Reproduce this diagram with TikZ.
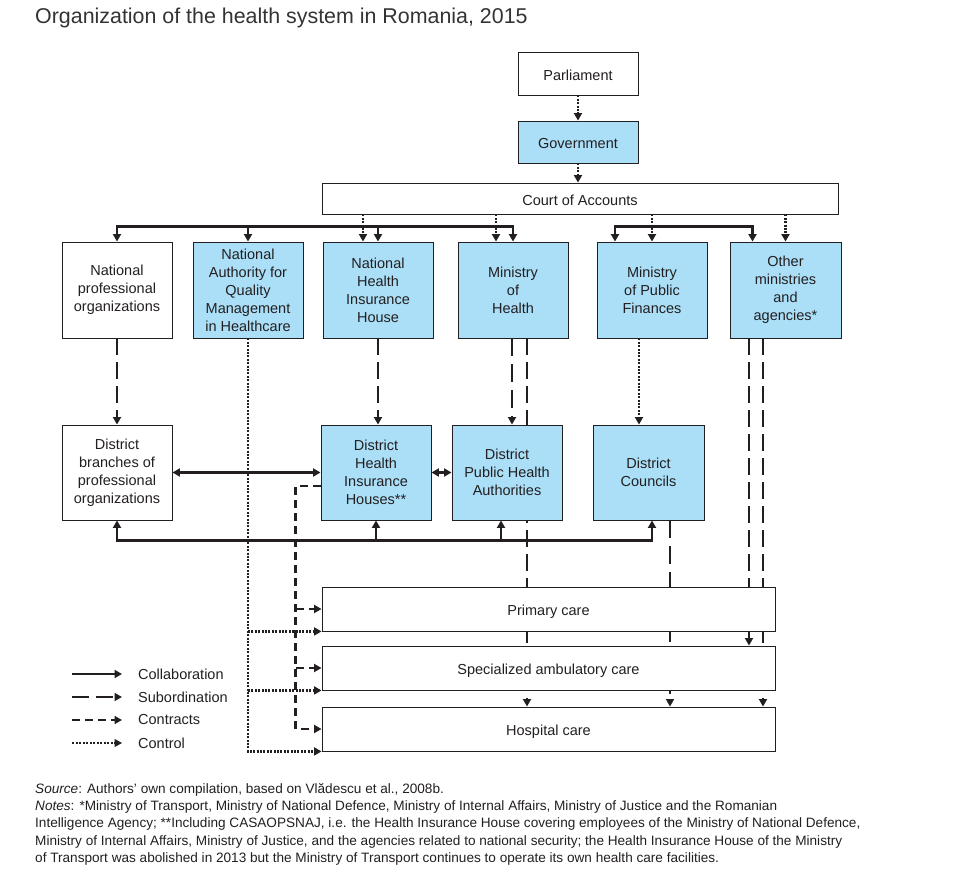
\documentclass[tikz,border=0pt]{standalone}
\usepackage{fontspec}
\setmainfont{Liberation Sans}
\usepackage{tikz}
\usetikzlibrary{arrows.meta,positioning,calc,backgrounds}
\definecolor{skyfill}{RGB}{170,223,247}
\definecolor{inkgray}{RGB}{35,31,32}
\newcommand{\boxfont}{\fontsize{14.5}{18}\selectfont}
\tikzstyle{orgbox}=[rectangle,draw=inkgray,line width=0.9pt,fill=white,minimum width=110pt,
                  minimum height=96pt,inner sep=1pt,align=center,font=\boxfont,text=inkgray]
\tikzstyle{bluebox}=[orgbox,fill=skyfill]
\tikzstyle{oneline}=[text height=13.5pt,text depth=0pt]
\tikzstyle{carebox}=[orgbox,oneline,minimum width=453pt,minimum height=44pt]
\tikzstyle{collab}=[->,line width=2.4pt,draw=inkgray]
\tikzstyle{subord}=[->,line width=2.6pt,draw=inkgray,dash pattern=on 17pt off 7pt]
\tikzstyle{subthin}=[->,line width=1.5pt,draw=inkgray,dash pattern=on 18pt off 8pt]
\tikzstyle{contract}=[->,line width=2.2pt,draw=inkgray,dash pattern=on 8pt off 5pt]
\tikzstyle{ctrl}=[->,line width=2.2pt,draw=inkgray,dash pattern=on 2pt off 1.4pt]
\tikzstyle{ctrlthin}=[->,line width=1.1pt,draw=inkgray,dash pattern=on 2pt off 1.5pt]
\tikzstyle{legtext}=[anchor=west,inner sep=0pt,font=\boxfont,text=inkgray]

\begin{document}
\begin{tikzpicture}[x=1pt,y=-1pt,>={Triangle[length=7.5pt,width=8pt]}]
  \useasboundingbox (0,0) rectangle (980,893);
  \node[anchor=west,inner sep=0pt,font=\fontsize{21.4}{24}\selectfont,text=black!80] (title) at (35,18)
    {Organization of the health system in Romania, 2015};

  % national level
  \node[orgbox,oneline,minimum width=120pt,minimum height=43pt] (parl) at (578,73.5) {Parliament};
  \node[bluebox,oneline,minimum width=120pt,minimum height=42pt] (gov) at (578,142) {Government};
  \node[orgbox,oneline,minimum width=516pt,minimum height=31pt] (court) at (580,198.5) {Court of Accounts};

  \node[orgbox] (npo) at (117,290) {National\\professional\\organizations};
  \node[bluebox] (naqmh) at (248,290) {National\\Authority for\\Quality\\Management\\in Healthcare};
  \node[bluebox] (nhih) at (378,290) {National\\Health\\Insurance\\House};
  \node[bluebox] (moh) at (513,290) {Ministry\\of\\Health};
  \node[bluebox] (mopf) at (652,290) {Ministry\\of Public\\Finances};
  \node[bluebox,minimum width=111pt] (other) at (785.5,290) {Other\\ministries\\and\\agencies*};

  % district level
  \node[orgbox,minimum height=95pt] (dbpo) at (117,472.5) {District\\branches of\\professional\\organizations};
  \node[bluebox,minimum height=95pt] (dhih) at (376,472.5) {District\\Health\\Insurance\\Houses**};
  \node[bluebox,minimum height=95pt] (dpha) at (507,472.5) {District\\Public Health\\Authorities};
  \node[bluebox,minimum width=111pt,minimum height=95pt] (dc) at (648.5,472.5) {District\\Councils};

  % care levels
  \node[carebox] (pc) at (548.5,609) {Primary care};
  \node[carebox] (sac) at (548.5,668) {Specialized ambulatory care};
  \node[carebox] (hc) at (548.5,729) {Hospital care};

  \coordinate (c1) at ($(nhih.north)+(-15,0)$);
  \coordinate (c2) at ($(moh.north)+(-17,0)$);
  \coordinate (busl) at ($(npo.north)+(0,-15)$);
  \coordinate (busr1) at ($(mopf.north)+(-37,0)$);
  \coordinate (busr2) at ($(other.north)+(-33,0)$);
  \coordinate (mh1) at ($(moh.south)+(-1,0)$);
  \coordinate (mh2) at ($(moh.south)+(14,0)$);
  \coordinate (mp1) at ($(mopf.south)+(-13,0)$);
  \coordinate (dc1) at ($(dc.south)+(21.5,0)$);
  \coordinate (ot1) at ($(other.south)+(-36.5,0)$);
  \coordinate (ot2) at ($(other.south)+(-22.5,0)$);
  \coordinate (busb) at ($(dbpo.south)+(0,20)$);
  \coordinate (dcin) at ($(dc.south)+(3.5,0)$);
  \coordinate (dpin) at ($(dpha.south)+(-6,0)$);
  \coordinate (dh1) at ($(dhih.west)+(0,13.5)$);
  \coordinate (ctr) at ($(dhih.west)+(-25,13.5)$);

  % lines running behind the boxes
  \begin{scope}[on background layer]
    \draw[subord] (mh2) -- (mh2 |- hc.north);
    \draw[subthin] (dc1) -- (dc1 |- hc.north);
    \draw[subord] (ot1) -- (ot1 |- sac.north);
    \draw[subord] (ot2) -- (ot2 |- hc.north);
  \end{scope}

  \draw[ctrl] (parl) -- (gov);
  \draw[ctrl] (gov.south) -- (gov.south |- court.north);
  \draw[ctrl] (c1 |- court.south) -- (c1);
  \draw[ctrl] (c2 |- court.south) -- (c2);
  \draw[ctrl] (mopf.north |- court.south) -- (mopf.north);
  \draw[ctrl] (other.north |- court.south) -- (other.north);

  \draw[collab,<->] (npo.north) -- (busl) -| (moh.north);
  \draw[collab] (busl -| naqmh.north) -- (naqmh.north);
  \draw[collab] (busl -| nhih.north) -- (nhih.north);
  \draw[collab,<->] (busr1) -- ++(0,-15) -| (busr2);

  \draw[subord] (npo) -- (dbpo);
  \draw[subord] (nhih.south) -- (nhih.south |- dhih.north);
  \draw[subthin] (mh1) -- (mh1 |- dpha.north);
  \draw[ctrl] (mp1) -- (mp1 |- dc.north);

  \draw[collab,<->] (dbpo) -- (dhih);
  \draw[collab,<->] (dhih) -- (dpha);
  \draw[collab,<->] (dbpo.south) -- (busb) -| (dcin);
  \draw[collab] (busb -| dhih.south) -- (dhih.south);
  \draw[collab] (busb -| dpin) -- (dpin);

  % control and contracts towards care
  \draw[ctrl] (naqmh.south) |- (hc.south west);
  \draw[ctrl] (naqmh.south |- pc.south west) -- (pc.south west);
  \draw[ctrl] (naqmh.south |- sac.south west) -- (sac.south west);
  \draw[contract] (dh1) -- (ctr) |- (hc.west);
  \draw[contract] (ctr |- pc.west) -- (pc.west);
  \draw[contract] (ctr |- sac.west) -- (sac.west);

  % legend
  \foreach \sty/\txt [count=\i] in {collab/Collaboration,subord/Subordination,contract/Contracts,ctrlthin/Control}{
    \coordinate (legs\i) at (72,651+23*\i);
    \node[legtext] (leg\i) at (138,651+23*\i) {\txt};
    \draw[\sty] (legs\i) -- ++(50,0);
  }

  \node[anchor=north west,inner sep=0pt,align=left,text=inkgray,font=\fontsize{13.6}{17.3}\selectfont] (notes) at (35,783)
    {\textit{Source}: Authors’ own compilation, based on Vlădescu et al., 2008b.\\
     \textit{Notes}: *Ministry of Transport, Ministry of National Defence, Ministry of Internal Affairs, Ministry of Justice and the Romanian\\
     Intelligence Agency; **Including CASAOPSNAJ, i.e. the Health Insurance House covering employees of the Ministry of National Defence,\\
     Ministry of Internal Affairs, Ministry of Justice, and the agencies related to national security; the Health Insurance House of the Ministry\\
     of Transport was abolished in 2013 but the Ministry of Transport continues to operate its own health care facilities.};
\end{tikzpicture}
\end{document}
